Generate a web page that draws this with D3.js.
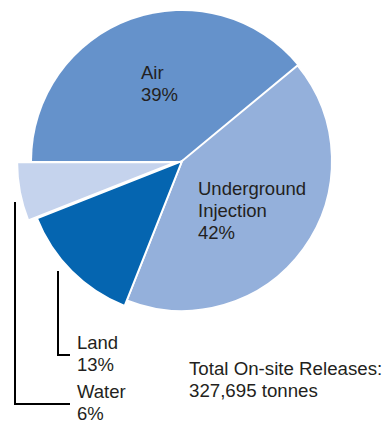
<!DOCTYPE html>
<html>
<head>
<meta charset="utf-8">
<script src="https://cdn.jsdelivr.net/npm/d3@7"></script>
<style>
  html, body { margin: 0; padding: 0; background: #fff; }
  svg text { font-family: "Liberation Sans", Arial, sans-serif; fill: #231f20; }
</style>
</head>
<body>
<svg id="chart" width="385" height="422"></svg>
<script>
// On-site releases by medium (share of total, %)
const categories = ["Air", "Underground Injection", "Land", "Water"];
const shares = [39, 42, 13, 6];
const labelLines = [["Air"], ["Underground", "Injection"], ["Land"], ["Water"]];
const colors = ["#6592cb", "#94b0db", "#0565b0", "#c5d3ed"];
const totalNote = ["Total On-site Releases:", "327,695 tonnes"];

const svg = d3.select("#chart");
const cx = 182, cy = 161, radius = 150;

const pie = d3.pie()
  .sort(null)
  .value(d => d.value)
  .startAngle(-Math.PI / 2)
  .endAngle(3 * Math.PI / 2);

const data = categories.map((c, i) => ({ name: c, value: shares[i], color: colors[i], lines: labelLines[i] }));
const arcs = pie(data);

// The two small slices are drawn a little larger, and Water is pulled out
const radiusBoost = { "Land": 6, "Water": 8 };
const explode = { "Water": 7 };
const arcFor = d => d3.arc().innerRadius(0).outerRadius(radius + (radiusBoost[d.data.name] || 0))(d);

const g = svg.append("g").attr("transform", `translate(${cx},${cy})`);

g.selectAll("path.slice")
  .data(arcs)
  .join("path")
  .attr("class", "slice")
  .attr("d", arcFor)
  .attr("fill", d => d.data.color)
  .attr("stroke", "#fff")
  .attr("stroke-width", d => d.data.name === "Air" ? 0 : 2)
  .attr("stroke-linejoin", "miter")
  .attr("transform", d => {
    const off = explode[d.data.name] || 0;
    const mid = (d.startAngle + d.endAngle) / 2;
    return `translate(${Math.sin(mid) * off},${-Math.cos(mid) * off})`;
  });

// Text labels
const lineH = 22;
const fontSize = 18.5;
const labelPos = {
  "Air": [141, 79],
  "Underground Injection": [198, 195],
  "Land": [77, 349],
  "Water": [77, 398]
};

arcs.forEach(d => {
  const [x, y] = labelPos[d.data.name];
  const t = svg.append("text").attr("x", x).attr("y", y).style("font-size", fontSize + "px");
  const lines = d.data.lines.concat([d.data.value + "%"]);
  lines.forEach((ln, i) => {
    t.append("tspan").attr("x", x).attr("dy", i === 0 ? 0 : lineH).text(ln);
  });
});

// Leader lines for the small slices
const leader = d3.line();
svg.append("path")
  .attr("d", leader([[58, 271], [58, 355], [70, 355]]))
  .attr("fill", "none").attr("stroke", "#000").attr("stroke-width", 2);
svg.append("path")
  .attr("d", leader([[15, 202], [15, 404], [70, 404]]))
  .attr("fill", "none").attr("stroke", "#000").attr("stroke-width", 2);

// Total note
const note = svg.append("text").attr("x", 189).attr("y", 375).style("font-size", "18.7px");
totalNote.forEach((ln, i) => {
  note.append("tspan").attr("x", 189).attr("dy", i === 0 ? 0 : lineH).text(ln);
});
</script>
</body>
</html>
